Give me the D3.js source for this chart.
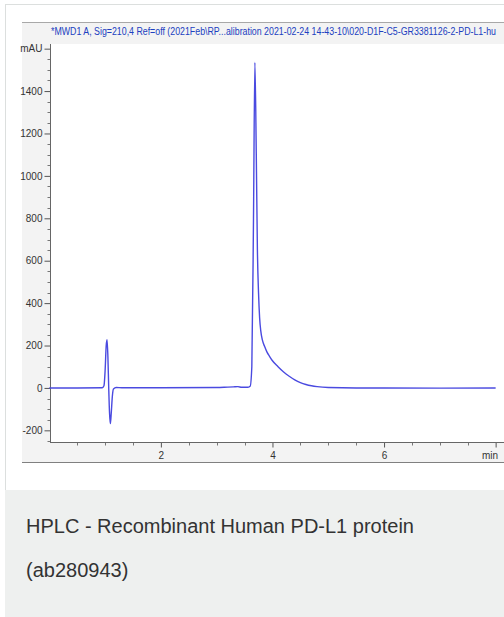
<!DOCTYPE html>
<html>
<head>
<meta charset="utf-8">
<script src="https://cdn.jsdelivr.net/npm/d3@7"></script>
<style>
  html, body { margin: 0; padding: 0; background: #ffffff; }
  svg { display: block; }
</style>
</head>
<body>
<div id="chart"></div>
<script>
// Chromatogram trace (time in min, signal in mAU)
const times = [0, 0.5, 0.95, 0.98, 1.0, 1.02, 1.035, 1.05, 1.065, 1.08, 1.095, 1.11, 1.13, 1.15, 1.2, 1.3,
    2.0, 3.0, 3.2, 3.3, 3.38, 3.45, 3.55, 3.6, 3.63, 3.66, 3.685, 3.71, 3.73, 3.75, 3.77, 3.79,
    3.82, 3.86, 3.9, 3.95, 4.0, 4.1, 4.2, 4.3, 4.4, 4.5, 4.6, 4.7, 4.8, 5.0, 5.5, 6.0, 7.0, 8.0];
const signal = [0, 0, 1, 10, 80, 200, 228, 150, 0, -120, -168, -120, -40, -5, 2, 1,
    1, 2, 4, 5, 6, 3, 3, 8, 100, 800, 1535, 1100, 650, 450, 330, 270,
    225, 195, 170, 148, 128, 100, 75, 55, 38, 25, 16, 10, 6, 2, 0, 0, -1, 0];

const yMajorTicks = [-200, 0, 200, 400, 600, 800, 1000, 1200, 1400, 1600];
const xMajorTicks = [2, 4, 6, 8];
const xTickLabels = ['2', '4', '6', 'min'];

const headerText = '*MWD1 A, Sig=210,4 Ref=off (2021Feb\\RP...alibration 2021-02-24 14-43-10\\020-D1F-C5-GR3381126-2-PD-L1-hu';
const captionLines = ['HPLC - Recombinant Human PD-L1 protein', '(ab280943)'];

const W = 504, H = 617;
const svg = d3.select('#chart').append('svg')
    .attr('width', W)
    .attr('height', H);

// Card frame
svg.append('rect')
    .attr('x', 5.5).attr('y', 4.5)
    .attr('width', W).attr('height', 486)
    .attr('fill', '#ffffff')
    .attr('stroke', '#dcdfde');

// Caption area
svg.append('rect')
    .attr('x', 5).attr('y', 490)
    .attr('width', W - 5).attr('height', H - 490)
    .attr('fill', '#eef0ef');

svg.selectAll('.caption')
    .data(captionLines)
    .enter()
    .append('text')
    .attr('class', 'caption')
    .attr('x', 26)
    .attr('y', (d, i) => 533 + i * 44)
    .style('font-family', '"Liberation Sans", Arial, sans-serif')
    .style('font-size', '20px')
    .style('fill', '#333333')
    .text(d => d);

// Chromatogram image background
svg.append('rect')
    .attr('x', 22).attr('y', 22)
    .attr('width', W - 22).attr('height', 440)
    .attr('fill', '#f3f3f3');

svg.append('line')
    .attr('x1', 22).attr('x2', W)
    .attr('y1', 22.5).attr('y2', 22.5)
    .attr('stroke', '#a8a8a8');

svg.append('line')
    .attr('x1', 22).attr('x2', W)
    .attr('y1', 462.5).attr('y2', 462.5)
    .attr('stroke', '#808080');

svg.append('text')
    .attr('x', 51)
    .attr('y', 35)
    .attr('textLength', 445)
    .attr('lengthAdjust', 'spacingAndGlyphs')
    .style('font-family', '"Liberation Sans", Arial, sans-serif')
    .style('font-size', '10px')
    .style('fill', '#2040c0')
    .text(headerText);

// Plot area
const plot = { left: 49.3, right: W, top: 44, bottom: 442 };

svg.append('rect')
    .attr('x', 50).attr('y', plot.top)
    .attr('width', W - 50).attr('height', plot.bottom - plot.top)
    .attr('fill', '#ffffff');

const x = d3.scaleLinear()
    .domain([0, 8.15])
    .range([plot.left, plot.right]);

const y = d3.scaleLinear()
    .domain([-255, 1622])
    .range([plot.bottom, plot.top]);

const tickFont = '"Liberation Sans", Arial, sans-serif';

// Y axis: major ticks every 200, minor every 50
const yAxis = svg.append('g')
    .attr('transform', 'translate(50.5,0)')
    .call(d3.axisLeft(y)
        .tickValues(yMajorTicks)
        .tickSize(6)
        .tickPadding(2)
        .tickFormat(d => d === 1600 ? 'mAU' : d));
yAxis.select('.domain').remove();
yAxis.selectAll('line').attr('stroke', '#555555');
yAxis.selectAll('text')
    .style('font-family', tickFont)
    .style('font-size', '10px')
    .style('fill', '#333333');

svg.append('g')
    .attr('transform', 'translate(50.5,0)')
    .selectAll('line')
    .data(d3.range(-250, 1601, 50).filter(v => v % 200 !== 0))
    .enter()
    .append('line')
    .attr('x1', -3).attr('x2', 0)
    .attr('y1', d => Math.round(y(d)) + 0.5)
    .attr('y2', d => Math.round(y(d)) + 0.5)
    .attr('stroke', '#777777');

svg.append('line')
    .attr('x1', 50.5).attr('x2', 50.5)
    .attr('y1', plot.top).attr('y2', plot.bottom)
    .attr('stroke', '#666666');

// X axis: labeled ticks every 2 min, small ticks every 0.5 min
const xAxis = svg.append('g')
    .attr('transform', `translate(0,${plot.bottom + 0.5})`)
    .call(d3.axisBottom(x)
        .tickValues(xMajorTicks)
        .tickSize(5)
        .tickPadding(4)
        .tickFormat((d, i) => xTickLabels[i]));
xAxis.select('.domain').remove();
xAxis.selectAll('line').attr('stroke', '#555555');
xAxis.selectAll('text')
    .style('font-family', tickFont)
    .style('font-size', '10px')
    .style('fill', '#333333');
xAxis.selectAll('.tick').filter(d => d === 8).select('text')
    .attr('text-anchor', 'end')
    .attr('dx', 2);

svg.append('g')
    .attr('transform', `translate(0,${plot.bottom + 0.5})`)
    .selectAll('line')
    .data(d3.range(0.5, 8.01, 0.5).filter(v => v % 2 !== 0))
    .enter()
    .append('line')
    .attr('x1', d => Math.round(x(d)) + 0.5)
    .attr('x2', d => Math.round(x(d)) + 0.5)
    .attr('y1', 0).attr('y2', 3)
    .attr('stroke', '#777777');

svg.append('line')
    .attr('x1', 50).attr('x2', W)
    .attr('y1', plot.bottom + 0.5).attr('y2', plot.bottom + 0.5)
    .attr('stroke', '#666666');

// Signal trace
const trace = d3.line()
    .x((d, i) => x(times[i]))
    .y(d => y(d))
    .curve(d3.curveMonotoneX);

svg.append('path')
    .datum(signal)
    .attr('d', trace)
    .attr('fill', 'none')
    .attr('stroke', '#4a4ae0')
    .attr('stroke-width', 1.4);
</script>
</body>
</html>
